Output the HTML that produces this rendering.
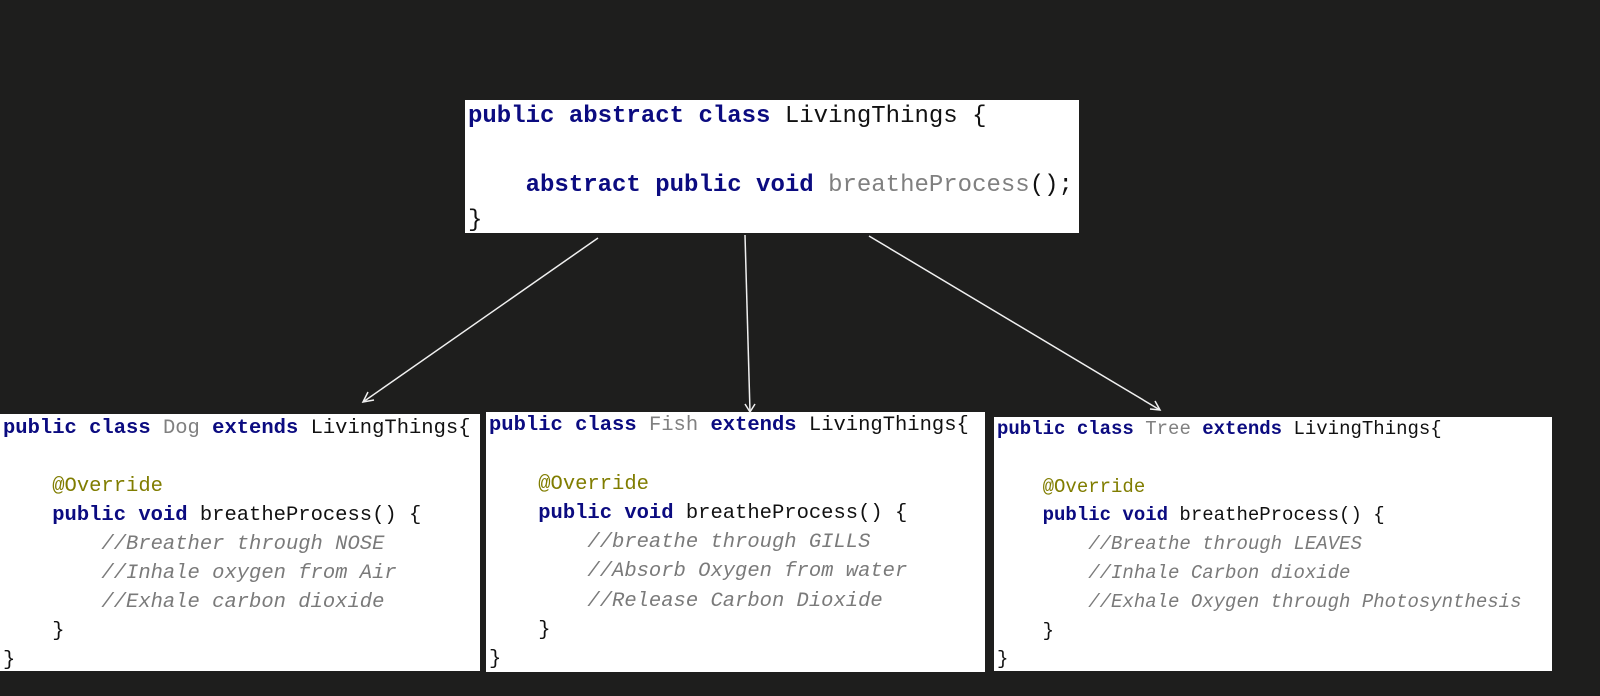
<!DOCTYPE html>
<html><head><meta charset="utf-8"><style>
body{margin:0;width:1600px;height:696px;background:#1e1e1d;overflow:hidden;position:relative;font-family:"Liberation Mono","DejaVu Sans Mono",monospace}
.box{position:absolute;background:#fff;}
pre{margin:0;font-family:inherit;color:#111;white-space:pre;position:absolute;left:3px}
.k{color:#0b0b80;font-weight:bold}
.g{color:#808080}
.a{color:#807d00}
.c{color:#7a7a7a;font-style:italic}
</style></head><body>
<div class="box" style="left:465px;top:100px;width:614px;height:133px">
<pre style="font-size:24px;line-height:34.5px;top:0px"><span class="k">public abstract class</span> LivingThings {

    <span class="k">abstract public void</span> <span class="g">breatheProcess</span>();
}</pre></div>
<div class="box" style="left:0;top:414px;width:480px;height:257px">
<pre style="font-size:20.5px;line-height:29px;top:0px"><span class="k">public class</span> <span class="g">Dog</span> <span class="k">extends</span> LivingThings{

    <span class="a">@Override</span>
    <span class="k">public void</span> breatheProcess() {
        <span class="c">//Breather through NOSE</span>
        <span class="c">//Inhale oxygen from Air</span>
        <span class="c">//Exhale carbon dioxide</span>
    }
}</pre></div>
<div class="box" style="left:486px;top:412px;width:499px;height:260px">
<pre style="font-size:20.5px;line-height:29.3px;top:-1px"><span class="k">public class</span> <span class="g">Fish</span> <span class="k">extends</span> LivingThings{

    <span class="a">@Override</span>
    <span class="k">public void</span> breatheProcess() {
        <span class="c">//breathe through GILLS</span>
        <span class="c">//Absorb Oxygen from water</span>
        <span class="c">//Release Carbon Dioxide</span>
    }
}</pre></div>
<div class="box" style="left:994px;top:417px;width:558px;height:254px">
<pre style="font-size:19px;line-height:28.8px;top:-2px"><span class="k">public class</span> <span class="g">Tree</span> <span class="k">extends</span> LivingThings{

    <span class="a">@Override</span>
    <span class="k">public void</span> breatheProcess() {
        <span class="c">//Breathe through LEAVES</span>
        <span class="c">//Inhale Carbon dioxide</span>
        <span class="c">//Exhale Oxygen through Photosynthesis</span>
    }
}</pre></div>
<svg width="1600" height="696" style="position:absolute;left:0;top:0" fill="none" stroke="#f0f0f0" stroke-width="1.5">
<line x1="598" y1="238" x2="363" y2="402"/>
<polyline points="368,392 363,402 374,400"/>
<line x1="745" y1="235" x2="750" y2="412"/>
<polyline points="745,404 750,412 755,404"/>
<line x1="869" y1="236" x2="1160" y2="410"/>
<polyline points="1150,409 1160,410 1155,401"/>
</svg>
</body></html>
